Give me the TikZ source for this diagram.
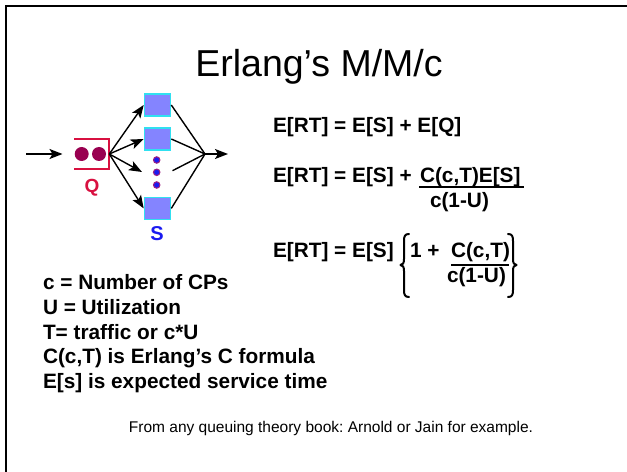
\documentclass[tikz,border=0pt]{standalone}
\usepackage{fontspec}
\setmainfont{Liberation Sans}
\usetikzlibrary{arrows.meta,calc}
\frenchspacing
\definecolor{qred}{HTML}{D81040}
\definecolor{qdot}{HTML}{990050}
\definecolor{srvfill}{HTML}{8484FF}
\definecolor{srvedge}{HTML}{30E0F0}
\definecolor{sblue}{HTML}{1A1AF0}
\definecolor{dotedge}{HTML}{A02080}
\begin{document}
\begin{tikzpicture}[x=1bp,y=-1bp,
  txt/.style={inner sep=0pt,outer sep=0pt,anchor=base west,font=\fontsize{20.8bp}{24bp}\selectfont\bfseries},
  arr/.style={-{Stealth[length=13bp,width=10bp,inset=3bp]},line width=1.4bp},
  plain/.style={line width=1.4bp},
  server/.style={draw=srvedge,fill=srvfill,line width=1.6bp,minimum width=26bp,minimum height=22bp,inner sep=0pt},
  qdotst/.style={circle,fill=qdot,minimum size=14bp,inner sep=0pt},
  sdot/.style={circle,fill=sblue,draw=dotedge,line width=1bp,minimum size=6.5bp,inner sep=0pt},
  brace/.style={line width=2bp,line cap=round,line join=round},
  bar/.style={line width=2.4bp}]
\useasboundingbox (0,0) rectangle (627,472);
% frame
\draw[line width=2bp] (6,472) -- (6,6) -- (627,6);
% title
\node[inner sep=0pt,anchor=base,font=\fontsize{37.5bp}{40bp}\selectfont] (title) at (319,77) {Erlang’s M/M/c};
% queue
\draw[qred,line width=2bp] (74,139.3) -- (109.3,139.3) -- (109.3,169.3) -- (74,169.3);
\node[qdotst] (qd1) at (81.7,154) {};
\node[qdotst] (qd2) at (99,154) {};
\node[inner sep=0pt,anchor=base,text=qred,font=\fontsize{19bp}{22bp}\selectfont\bfseries] (qlab) at (92,193) {Q};
\coordinate (src) at (26,154);
\coordinate (qin) at (62.5,154);
\coordinate (qout) at (109.3,154);
\draw[arr] (src) -- (qin);
% servers
\node[server] (s1) at (157.5,105) {};
\node[server] (s2) at (157.5,139) {};
\node[server] (s3) at (157.5,208.4) {};
\node[sdot] (d1) at (156.7,160) {};
\node[sdot] (d2) at (156.7,172.3) {};
\node[sdot] (d3) at (156.7,185) {};
\coordinate (din) at (142,172);
\coordinate (dout) at (172.5,170.7);
\node[inner sep=0pt,anchor=base,text=sblue,font=\fontsize{20bp}{22bp}\selectfont\bfseries] (slab) at (157,241) {S};
\draw[arr] (qout) -- (s1.west);
\draw[arr] (qout) -- (s2.west);
\draw[arr] (qout) -- (din);
\draw[arr] (qout) -- (s3.west);
\coordinate (join) at (205,154);
\coordinate (sink) at (228,154);
\draw[plain] (s1.east) -- (join);
\draw[plain] (s2.east) -- (join);
\draw[plain] (dout) -- (join);
\draw[plain] (s3.east) -- (join);
\draw[arr] (join) -- (sink);
% equations
\node[txt] (e1) at (273,133) {E[RT] = E[S] + E[Q]};
\node[txt] (e2) at (273,183) {E[RT] = E[S] +};
\node[txt] (e2n) at (420,183) {C(c,T)E[S]};
\node[txt] (e2d) at (430,208) {c(1-U)};
\draw[bar] ($(e2n.base west)+(-1,4)$) -- ($(e2n.base east)+(3,4)$);
\node[txt] (e3) at (273,258) {E[RT] = E[S]};
\node[txt] (e3a) at (410,258) {1 +};
\node[txt] (e3n) at (451,258) {C(c,T)};
\node[txt] (e3d) at (447,283) {c(1-U)};
\draw[bar] ($(e3n.base west)+(0,7)$) -- ($(e3n.base east)+(-1,7)$);
\coordinate (lbt) at (409,234);
\draw[brace] (lbt) .. controls (405,234) and (404,236) .. (404,241) -- (404,259) .. controls (404,263) and (403,265) .. (400.5,265) .. controls (403,265) and (404,267) .. (404,271) -- (404,290) .. controls (404,295) and (405,297) .. (409,297);
\coordinate (rbt) at (508,234);
\draw[brace] (rbt) .. controls (512,234) and (513,236) .. (513,241) -- (513,259) .. controls (513,263) and (514,265) .. (516.5,265) .. controls (514,265) and (513,267) .. (513,271) -- (513,290) .. controls (513,295) and (512,297) .. (508,297);
% definitions
\node[txt] (l1) at (43,290) {c = Number of CPs};
\node[txt] (l2) at (43,314.5) {U = Utilization};
\node[txt] (l3) at (43,339) {T= traffic or c*U};
\node[txt] (l4) at (43,363.5) {C(c,T) is Erlang{\char"0027}s C formula};
\node[txt] (l5) at (43,388) {E[s] is expected service time};
% footer
\node[inner sep=0pt,anchor=base,font=\fontsize{15.5bp}{18bp}\selectfont] (foot) at (331,432) {From any queuing theory book: Arnold or Jain for example.};
\end{tikzpicture}
\end{document}
